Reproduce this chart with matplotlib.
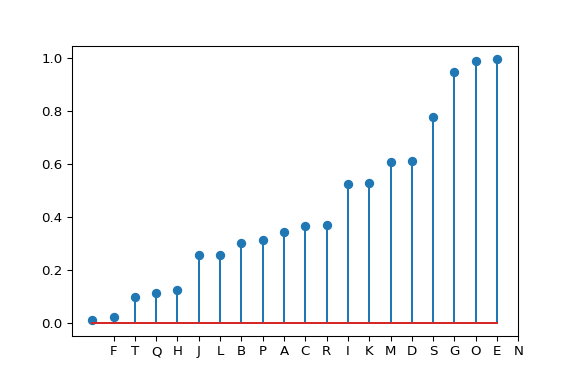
import matplotlib
matplotlib.use("Agg")
import matplotlib.pyplot as plt

values = [0.011, 0.021, 0.097, 0.113, 0.123, 0.255, 0.255, 0.301, 0.312, 0.343,
          0.365, 0.369, 0.523, 0.527, 0.606, 0.610, 0.776, 0.946, 0.988, 0.995]
tick_labels = ["F", "T", "Q", "H", "J", "L", "B", "P", "A", "C",
               "R", "I", "K", "M", "D", "S", "G", "O", "E", "N"]

fig = plt.figure(figsize=(6, 4), dpi=96)
ax = fig.add_axes([72/576, 48/384, (518.4-72)/576, (336-46)/384])
ax.stem(range(len(values)), values)
ax.set_xticks(range(1, len(tick_labels) + 1), tick_labels)
fig.savefig("out.png", dpi=96)
